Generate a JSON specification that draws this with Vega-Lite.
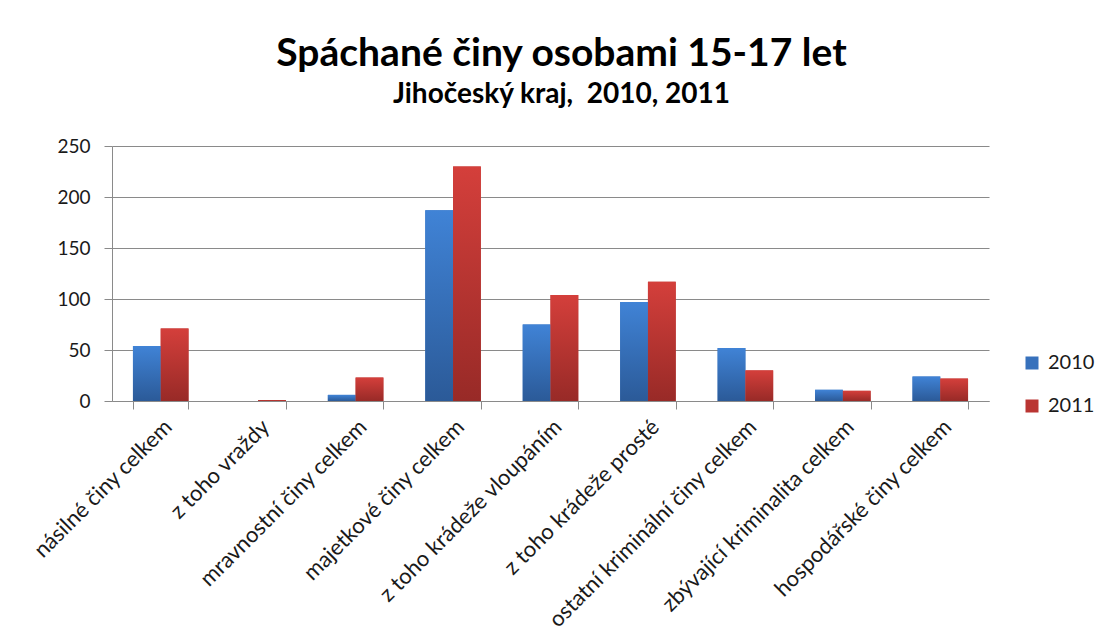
{
  "$schema": "https://vega.github.io/schema/vega-lite/v6.json",
  "width": 877,
  "height": 255,
  "autosize": {"type": "none"},
  "padding": {"left": 112, "top": 146, "right": 115, "bottom": 238},
  "background": "white",
  "title": {
    "text": "Spáchané činy osobami 15-17 let",
    "subtitle": "Jihočeský kraj,\u00a0 2010, 2011",
    "anchor": "middle",
    "frame": "group",
    "dx": 11,
    "offset": 28,
    "font": "Lato",
    "fontSize": 39,
    "fontWeight": "bold",
    "color": "#000000",
    "subtitleFont": "Lato",
    "subtitleFontSize": 28,
    "subtitleFontWeight": "bold",
    "subtitleColor": "#000000",
    "subtitlePadding": 7
  },
  "data": {
    "values": [
      {"kategorie": "násilné činy celkem", "rok": "2010", "pocet": 54},
      {"kategorie": "násilné činy celkem", "rok": "2011", "pocet": 71},
      {"kategorie": "z toho vraždy", "rok": "2010", "pocet": 0},
      {"kategorie": "z toho vraždy", "rok": "2011", "pocet": 1},
      {"kategorie": "mravnostní činy celkem", "rok": "2010", "pocet": 6},
      {"kategorie": "mravnostní činy celkem", "rok": "2011", "pocet": 23},
      {"kategorie": "majetkové činy celkem", "rok": "2010", "pocet": 187},
      {"kategorie": "majetkové činy celkem", "rok": "2011", "pocet": 230},
      {"kategorie": "z toho krádeže vloupáním", "rok": "2010", "pocet": 75},
      {"kategorie": "z toho krádeže vloupáním", "rok": "2011", "pocet": 104},
      {"kategorie": "z toho krádeže prosté", "rok": "2010", "pocet": 97},
      {"kategorie": "z toho krádeže prosté", "rok": "2011", "pocet": 117},
      {"kategorie": "ostatní kriminální činy celkem", "rok": "2010", "pocet": 52},
      {"kategorie": "ostatní kriminální činy celkem", "rok": "2011", "pocet": 30},
      {"kategorie": "zbývající kriminalita celkem", "rok": "2010", "pocet": 11},
      {"kategorie": "zbývající kriminalita celkem", "rok": "2011", "pocet": 10},
      {"kategorie": "hospodářské činy celkem", "rok": "2010", "pocet": 24},
      {"kategorie": "hospodářské činy celkem", "rok": "2011", "pocet": 22}
    ]
  },
  "encoding": {
    "x": {
      "field": "kategorie",
      "type": "nominal",
      "sort": null,
      "title": null,
      "scale": {"paddingInner": 0.43, "paddingOuter": 0.215},
      "axis": {
        "labelAngle": -45,
        "labelAlign": "right",
        "labelBaseline": "top",
        "labelFont": "Lato",
        "labelFontSize": 22,
        "labelColor": "#1a1a1a",
        "labelPadding": 7,
        "labelLimit": 400,
        "tickBand": "extent",
        "tickSize": 8,
        "tickColor": "#8a8a8a",
        "domainColor": "#8a8a8a",
        "grid": false
      }
    },
    "xOffset": {"field": "rok", "type": "nominal", "scale": {"domain": ["2010", "2011"]}},
    "y": {
      "field": "pocet",
      "type": "quantitative",
      "title": null,
      "scale": {"domain": [0, 250], "nice": false},
      "axis": {
        "values": [0, 50, 100, 150, 200, 250],
        "labelFont": "Lato",
        "labelFontSize": 19,
        "labelColor": "#1a1a1a",
        "labelPadding": 14,
        "tickSize": 8,
        "tickColor": "#8a8a8a",
        "domainColor": "#8a8a8a",
        "gridColor": "#8a8a8a",
        "gridWidth": 1.2
      }
    }
  },
  "layer": [
    {
      "mark": {"type": "bar"},
      "encoding": {
        "color": {
          "field": "rok",
          "type": "nominal",
          "title": null,
          "scale": {"domain": ["2010", "2011"], "range": ["#3771BC", "#BA3532"]},
          "legend": {
            "orient": "none",
            "legendX": 910,
            "legendY": 207,
            "symbolType": "square",
            "symbolSize": 169,
            "symbolStrokeWidth": 0,
            "labelFont": "Lato",
            "labelFontSize": 20,
            "labelColor": "#1a1a1a",
            "labelOffset": 6,
            "rowPadding": 23
          }
        }
      }
    },
    {
      "transform": [{"filter": "datum.rok === '2010'"}],
      "mark": {
        "type": "bar",
        "fill": {"gradient": "linear", "x1": 0, "y1": 0, "x2": 0, "y2": 1, "stops": [{"offset": 0, "color": "#4083D6"}, {"offset": 1, "color": "#2B5A98"}]}
      },
      "encoding": {}
    },
    {
      "transform": [{"filter": "datum.rok === '2011'"}],
      "mark": {
        "type": "bar",
        "fill": {"gradient": "linear", "x1": 0, "y1": 0, "x2": 0, "y2": 1, "stops": [{"offset": 0, "color": "#D43F3B"}, {"offset": 1, "color": "#982A27"}]}
      },
      "encoding": {}
    }
  ],
  "config": {
    "view": {"stroke": null}
  }
}
